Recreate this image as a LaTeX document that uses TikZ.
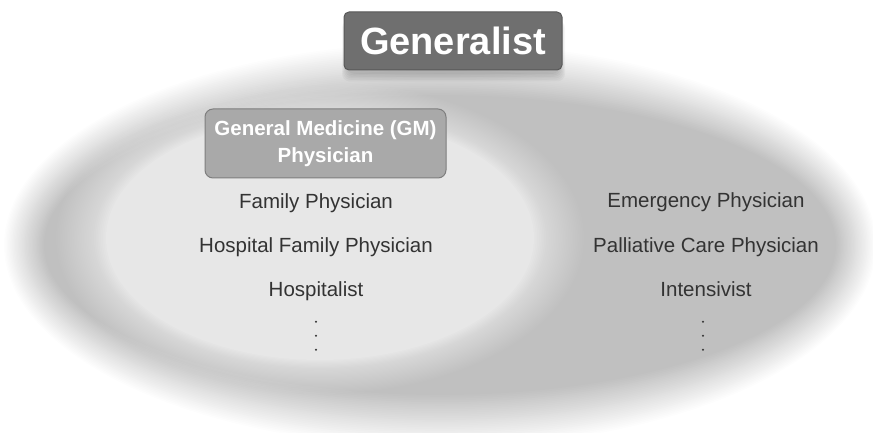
\documentclass[tikz,border=0pt]{standalone}
\usepackage{fontspec}
\setmainfont{Liberation Sans}
\definecolor{ogray}{HTML}{C0C0C0}
\definecolor{ilight}{HTML}{E7E7E7}
\definecolor{genfill}{HTML}{6F6F6F}
\definecolor{genline}{HTML}{585858}
\definecolor{gmfill}{HTML}{A9A9A9}
\definecolor{gmline}{HTML}{7E7E7E}
\definecolor{txt}{HTML}{333333}
\tikzset{
  genbox/.style={fill=genfill, draw=genline, line width=1pt, rounded corners=5pt,
    minimum width=218pt, minimum height=58pt, inner sep=0pt, text=white,
    font=\fontsize{38}{44}\selectfont\bfseries},
  gmbox/.style={fill=gmfill, draw=gmline, line width=1pt, rounded corners=8pt,
    minimum width=241pt, minimum height=69pt, inner sep=0pt, text=white, align=center,
    font=\fontsize{20.5}{27}\selectfont\bfseries},
  item/.style={anchor=base, text=txt, inner sep=0pt, font=\fontsize{20.5}{25}\selectfont},
  vdot/.style={circle, fill=txt, inner sep=0pt, minimum size=2.2pt}
}
\begin{document}
\begin{tikzpicture}[x=1pt,y=-1pt]
\useasboundingbox (0,0) rectangle (873,433);
% outer soft ellipse (linear fade built from layers)
\foreach \k in {1,...,30} {
  \pgfmathsetmacro\a{1/(31-\k)}
  \pgfmathsetmacro\rx{436-40*(\k-1)/29}
  \pgfmathsetmacro\ry{202-52*(\k-1)/29}
  \fill[ogray, fill opacity=\a] (440,245) ellipse (\rx pt and \ry pt);
}
% inner light ellipse
\foreach \k in {1,...,30} {
  \pgfmathsetmacro\a{1/(31-\k)}
  \pgfmathsetmacro\rx{264-50*(\k-1)/29}
  \pgfmathsetmacro\ry{156-34*(\k-1)/29}
  \fill[ilight, fill opacity=\a] (320,238) ellipse (\rx pt and \ry pt);
}
% shadow under Generalist box
\foreach \i in {0,...,5} {
  \fill[black, fill opacity=0.035, rounded corners=8pt]
    (347-\i,20) rectangle (560+\i,74+1.5*\i);
}
\node[genbox] (gen) at (453,41) {Generalist};
\node[gmbox] (gm) at (325.5,143.5) {General Medicine (GM)\\Physician};
% left column
\node[item] (fp) at (316,208) {Family Physician};
\node[item] (hfp) at (316,252.5) {Hospital Family Physician};
\node[item] (hosp) at (316,296) {Hospitalist};
\node[vdot] (ld1) at (316,321.7) {};
\node[vdot] (ld2) at (316,335.7) {};
\node[vdot] (ld3) at (316,349.7) {};
% right column
\node[item] (ep) at (706,207.5) {Emergency Physician};
\node[item] (pcp) at (706,252) {Palliative Care Physician};
\node[item] (int) at (706,296) {Intensivist};
\node[vdot] (rd1) at (703,321.7) {};
\node[vdot] (rd2) at (703,335.7) {};
\node[vdot] (rd3) at (703,349.7) {};
\end{tikzpicture}
\end{document}
